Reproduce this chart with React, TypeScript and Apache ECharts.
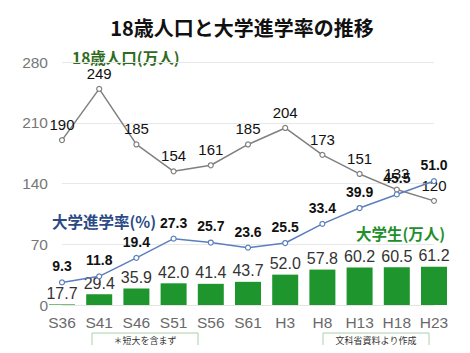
import React, { useEffect, useRef } from "react";
import * as echarts from "echarts";

const categories = ["S36", "S41", "S46", "S51", "S56", "S61", "H3", "H8", "H13", "H18", "H23"];
const population = [190, 249, 185, 154, 161, 185, 204, 173, 151, 133, 120];
const rate = [9.3, 11.8, 19.4, 27.3, 25.7, 23.6, 25.5, 33.4, 39.9, 45.5, 51.0];
const students = [17.7, 29.4, 35.9, 42.0, 41.4, 43.7, 52.0, 57.8, 60.2, 60.5, 61.2];
const yTicks = [0, 70, 140, 210, 280];

const FONT = "'Liberation Sans', 'Noto Sans CJK JP', sans-serif";
const CJK = "'Noto Sans CJK JP', 'Liberation Sans', sans-serif";

export default function App() {
  const ref = useRef<HTMLDivElement>(null);
  useEffect(() => {
    if (!ref.current) return;
    const chart = echarts.init(ref.current, undefined, { renderer: "svg" });
    chart.setOption({
      animation: false,
      backgroundColor: "#ffffff",
      textStyle: { fontFamily: FONT },
      grid: { left: 62, right: 36, top: 62, bottom: 48, containLabel: false },
      xAxis: {
        type: "category",
        data: categories,
        boundaryGap: false,
        axisLine: { show: true, lineStyle: { color: "#e4e4e4", width: 1 } },
        axisTick: { show: false },
        axisLabel: { color: "#6a6a6a", fontSize: 15.5, margin: 10, fontFamily: FONT, interval: 0 },
      },
      yAxis: [
        {
          type: "value",
          min: yTicks[0],
          max: yTicks[yTicks.length - 1],
          interval: 70,
          axisLine: { show: false },
          axisTick: { show: false },
          axisLabel: { color: "#777777", fontSize: 15.5, margin: 14, fontFamily: FONT },
          splitLine: { show: true, lineStyle: { color: "#e8e8e8", width: 1 } },
        },
        { type: "value", min: 0, max: 100, show: false, splitLine: { show: false } },
        { type: "value", min: 17, max: 297, show: false, splitLine: { show: false } },
      ],
      series: [
        {
          type: "bar",
          yAxisIndex: 2,
          data: students,
          barWidth: 26,
          itemStyle: { color: "#1e962d" },
          label: {
            show: true,
            position: "top",
            distance: 3,
            color: "#333333",
            fontSize: 16,
            fontFamily: FONT,
            formatter: (p: any) => Number(p.value).toFixed(1),
          },
          z: 2,
        },
        {
          type: "line",
          yAxisIndex: 0,
          data: population,
          symbol: "circle",
          symbolSize: 5,
          showAllSymbol: true,
          lineStyle: { color: "#808080", width: 1.5 },
          itemStyle: { color: "#ffffff", borderColor: "#808080", borderWidth: 1.2 },
          label: {
            show: true,
            position: "top",
            distance: 5,
            color: "#111111",
            fontSize: 15,
            fontFamily: FONT,
          },
          z: 3,
        },
        {
          type: "line",
          yAxisIndex: 1,
          data: rate,
          symbol: "circle",
          symbolSize: 5,
          showAllSymbol: true,
          lineStyle: { color: "#5b7fbf", width: 1.5 },
          itemStyle: { color: "#ffffff", borderColor: "#5b7fbf", borderWidth: 1.2 },
          label: {
            show: true,
            position: "top",
            distance: 6,
            color: "#111111",
            fontSize: 14,
            fontWeight: "bold",
            fontFamily: FONT,
            formatter: (p: any) => Number(p.value).toFixed(1),
          },
          z: 4,
        },
      ],
      graphic: [
        {
          type: "text",
          x: 242,
          y: 27,
          style: {
            text: "18歳人口と大学進学率の推移",
            fill: "#111111",
            font: "bold 20px " + CJK,
            textAlign: "center",
            textVerticalAlign: "middle",
          },
        },
        {
          type: "text",
          x: 72,
          y: 57,
          style: {
            text: "18歳人口(万人)",
            fill: "#2f6b1e",
            font: "bold 15.5px " + CJK,
            textAlign: "left",
            textVerticalAlign: "middle",
          },
        },
        {
          type: "text",
          x: 52,
          y: 221,
          style: {
            text: "大学進学率(%)",
            fill: "#2b4a85",
            font: "bold 15.5px " + CJK,
            textAlign: "left",
            textVerticalAlign: "middle",
          },
        },
        {
          type: "text",
          x: 356,
          y: 233,
          style: {
            text: "大学生(万人)",
            fill: "#1f8f2b",
            font: "bold 15.5px " + CJK,
            textAlign: "left",
            textVerticalAlign: "middle",
          },
        },
        {
          type: "rect",
          shape: { x: 92, y: 333, width: 106, height: 14 },
          style: { fill: "#ffffff", stroke: "#a8d0a8", lineWidth: 1 },
        },
        {
          type: "text",
          x: 145,
          y: 340,
          style: {
            text: "＊短大を含まず",
            fill: "#333333",
            font: "9px " + CJK,
            textAlign: "center",
            textVerticalAlign: "middle",
          },
        },
        {
          type: "rect",
          shape: { x: 323, y: 333, width: 106, height: 14 },
          style: { fill: "#ffffff", stroke: "#a8d0a8", lineWidth: 1 },
        },
        {
          type: "text",
          x: 376,
          y: 340,
          style: {
            text: "文科省資料より作成",
            fill: "#333333",
            font: "9px " + CJK,
            textAlign: "center",
            textVerticalAlign: "middle",
          },
        },
      ],
    });
    return () => chart.dispose();
  }, []);
  return <div ref={ref} style={{ width: 470, height: 353, margin: -8 }} />;
}
